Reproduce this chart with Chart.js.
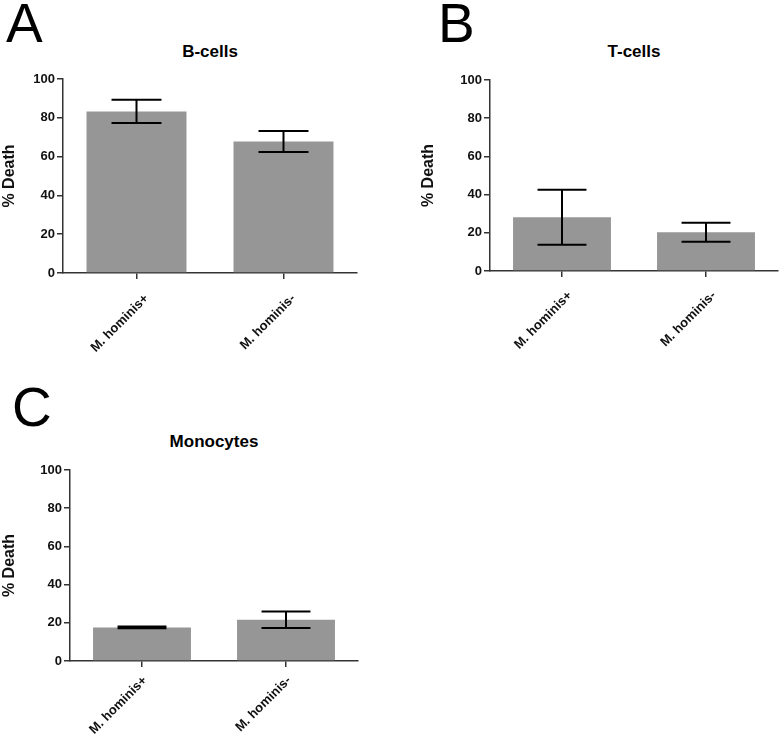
<!DOCTYPE html>
<html>
<head>
<meta charset="utf-8">
<script src="https://cdn.jsdelivr.net/npm/chart.js@4.4.1/dist/chart.umd.min.js"></script>
<style>
  html, body { margin: 0; padding: 0; background: #fff; }
  body { width: 780px; height: 738px; position: relative; overflow: hidden; font-family: "Liberation Sans", Arial, sans-serif; }
  canvas { position: absolute; }
  .letter { position: absolute; font-size: 55px; line-height: 1; font-weight: normal; color: #000; }
  .ptitle { position: absolute; font-size: 17px; font-weight: bold; color: #000; text-align: center; line-height: 1; }
</style>
</head>
<body>
<div class="letter" style="left:6px; top:-4px;">A</div>
<div class="letter" style="left:438px; top:-4px;">B</div>
<div class="letter" style="left:12px; top:380px;">C</div>
<div class="ptitle" style="left:63px; width:294px; top:43px;">B-cells</div>
<div class="ptitle" style="left:490px; width:288px; top:43px;">T-cells</div>
<div class="ptitle" style="left:70px; width:288px; top:433px;">Monocytes</div>
<canvas id="cA" width="365" height="370" style="left:0px; top:0px;"></canvas>
<canvas id="cB" width="361" height="370" style="left:419px; top:0px;"></canvas>
<canvas id="cC" width="365" height="358" style="left:0px; top:380px;"></canvas>
<script>
// ---- data ----
const categories = ["M. hominis+", "M. hominis-"];
const yTicks = [0, 20, 40, 60, 80, 100];
const bCellsMean = [83.3, 67.8];
const bCellsErr  = [6.0, 5.4];
const tCellsMean = [28.2, 20.3];
const tCellsErr  = [14.4, 5.0];
const monoMean   = [17.6, 21.6];
const monoErr    = [0.4, 4.3];

Chart.defaults.font.family = '"Liberation Sans", Arial, sans-serif';
Chart.defaults.color = '#111';

const errorBarPlugin = {
  id: 'errorBars',
  afterDatasetsDraw(chart) {
    const ctx = chart.ctx;
    const yScale = chart.scales.y;
    chart.data.datasets.forEach((ds, di) => {
      const meta = chart.getDatasetMeta(di);
      meta.data.forEach((bar, i) => {
        const m = ds.data[i], e = ds.errors[i];
        const yTop = yScale.getPixelForValue(m + e);
        const yBot = yScale.getPixelForValue(m - e);
        const half = bar.width * 0.25;
        ctx.save();
        ctx.strokeStyle = '#000';
        ctx.lineWidth = 2;
        ctx.beginPath();
        ctx.moveTo(bar.x, yTop); ctx.lineTo(bar.x, yBot);
        ctx.moveTo(bar.x - half, yTop); ctx.lineTo(bar.x + half, yTop);
        ctx.moveTo(bar.x - half, yBot); ctx.lineTo(bar.x + half, yBot);
        ctx.stroke();
        ctx.restore();
      });
    });
  }
};

function makeChart(id, means, errs, pad, yWidth, xHeight, lblPad, lblOff) {
  return new Chart(document.getElementById(id), {
    type: 'bar',
    data: {
      labels: categories,
      datasets: [{
        data: means,
        errors: errs,
        backgroundColor: 'rgb(150,150,150)',
        borderWidth: 0,
        barPercentage: 0.68,
        categoryPercentage: 1.0
      }]
    },
    options: {
      responsive: false,
      animation: false,
      devicePixelRatio: 1,
      layout: { padding: pad },
      plugins: { legend: { display: false }, tooltip: { enabled: false }, title: { display: false } },
      scales: {
        x: {
          offset: true,
          grid: { offset: false, drawOnChartArea: false, drawTicks: true, tickLength: 6, tickColor: '#333', lineWidth: 1.5 },
          border: { display: true, color: '#333', width: 1.5 },
          ticks: { autoSkip: false, maxRotation: 45, minRotation: 45, padding: lblPad, labelOffset: lblOff, color: '#111', font: { size: 13, weight: 'bold' } },
          afterFit(scale) { scale.height = xHeight; }
        },
        y: {
          min: 0, max: 100,
          afterBuildTicks(scale) { scale.ticks = yTicks.map(v => ({ value: v })); },
          grid: { drawOnChartArea: false, drawTicks: true, tickLength: 6, tickColor: '#333', lineWidth: 1.5 },
          border: { display: true, color: '#333', width: 1.5 },
          ticks: { padding: 2, color: '#111', font: { size: 13, weight: 'bold' } },
          title: { display: true, text: '% Death', color: '#111', font: { size: 16, weight: 'bold' }, padding: { top: 0, bottom: 0 } },
          afterFit(scale) { scale.width = yWidth; }
        }
      }
    },
    plugins: [errorBarPlugin]
  });
}

makeChart('cA', bCellsMean, bCellsErr, { left: 0, top: 79, right: 8, bottom: 0 }, 63, 97, 12, 10);
makeChart('cB', tCellsMean, tCellsErr, { left: 0, top: 80, right: 2, bottom: 0 }, 71, 99, 11, 8);
makeChart('cC', monoMean, monoErr, { left: 0, top: 90, right: 7, bottom: 0 }, 70, 77, 6, 3);
</script>
</body>
</html>
